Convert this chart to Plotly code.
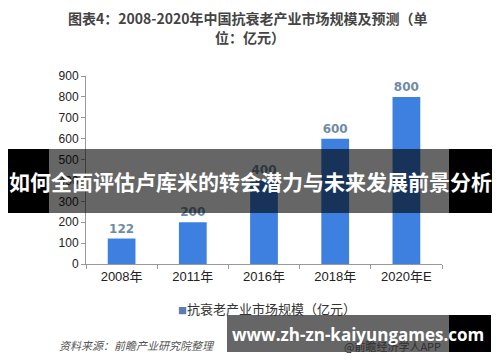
import plotly.graph_objects as go

categories = ["2008年", "2011年", "2016年", "2018年", "2020年E"]
values = [122, 200, 400, 600, 800]
series_name = "抗衰老产业市场规模（亿元）"
y_ticks = [0, 100, 200, 300, 400, 500, 600, 700, 800, 900]

# page body has an 8px default margin; work in page pixels and subtract it
O = 8
W, H = 500 - 2 * O, 362 - 2 * O
L, R, T, B = 86 - O, 442 - O, 76 - O, 264 - O

def px(x):
    return (x - O - L) / (R - L)

def py(y):
    return (B - (y - O)) / (B - T)

CJK = "Liberation Sans, Arial, Noto Sans CJK SC, sans-serif"

fig = go.Figure()
fig.add_trace(go.Bar(
    x=categories, y=values, name=series_name,
    marker=dict(color="#3d80e0", line=dict(width=0)),
    width=0.39,
    text=["<b>%d</b>" % v for v in values], textposition="outside",
    textfont=dict(family="DejaVu Sans, sans-serif", size=12, color="#6f8ca5"),
    cliponaxis=False, showlegend=False,
))

fig.update_layout(
    width=W, height=H,
    margin=dict(l=L, r=W - R, t=T, b=H - B, autoexpand=False),
    paper_bgcolor="white", plot_bgcolor="white",
    bargap=0.6,
)
fig.update_yaxes(range=[0, 900], tickvals=y_ticks, showgrid=False, showline=True,
                 linecolor="#999", linewidth=1, ticks="outside", ticklen=4, tickcolor="#999",
                 tickfont=dict(family=CJK, size=12, color="#222"), zeroline=False)
fig.update_xaxes(showgrid=False, showline=True, linecolor="#999", linewidth=1,
                 ticks="outside", tickson="boundaries", ticklen=4, tickcolor="#999",
                 tickfont=dict(family=CJK, size=13, color="#222"))

def note(text, x, y, size, color, family="Noto Sans CJK SC, sans-serif", xanchor="center"):
    return dict(text=text, x=px(x), y=py(y), xref="paper", yref="paper", showarrow=False,
                xanchor=xanchor, yanchor="middle",
                font=dict(family=family, size=size, color=color))

ann = [
    note("<b>图表4：2008-2020年中国抗衰老产业市场规模及预测（单</b>", 248, 18, 14, "#444"),
    note("<b>位：亿元）</b>", 250, 37, 14, "#444"),
    note('<span style="color:#5b7cae;font-size:9px">■</span>' + series_name, 267, 308, 13, "#333"),
    note("<i>资料来源：前瞻产业研究院整理</i>", 57, 345, 11, "#555", xanchor="left"),
    note("@前瞻经济学人APP", 342, 346, 11, "#2e2e2e", xanchor="left"),
    note("<b>如何全面评估卢库米的转会潜力与未来发展前景分析</b>", 250, 181, 21, "white"),
    note("<b>www.zh-zn-kaiyungames.com</b>", 358, 334, 17, "white",
         family="Open Sans, DejaVu Sans, sans-serif"),
]
fig.update_layout(annotations=ann)

shapes = [
    dict(type="rect", x0=px(8), x1=px(49), y0=py(149), y1=py(213), fillcolor="black"),
    dict(type="rect", x0=px(49), x1=px(449), y0=py(149), y1=py(213), fillcolor="rgba(0,0,0,0.6)"),
    dict(type="rect", x0=px(449), x1=px(492), y0=py(149), y1=py(213), fillcolor="black"),
    dict(type="rect", x0=px(227), x1=px(449), y0=py(315), y1=py(352), fillcolor="rgba(0,0,0,0.6)"),
    dict(type="rect", x0=px(449), x1=px(491), y0=py(315), y1=py(352), fillcolor="black"),
]
for s in shapes:
    s.update(xref="paper", yref="paper", layer="above", line=dict(width=0))
fig.update_layout(shapes=shapes)

fig.write_html("out.html")
